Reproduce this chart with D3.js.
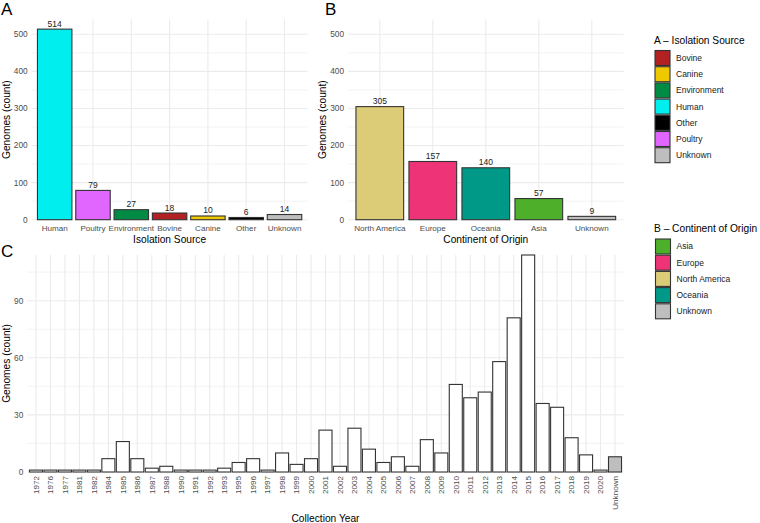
<!DOCTYPE html>
<html>
<head>
<meta charset="utf-8">
<script src="https://cdn.jsdelivr.net/npm/d3@7"></script>
<style>
  html, body { margin: 0; padding: 0; background: #fff; }
  svg { display: block; font-family: "Liberation Sans", Arial, sans-serif; }
</style>
</head>
<body>
<svg id="chart" width="760" height="523"></svg>
<script>
// ---------- data ----------
const sourceCats = ["Human", "Poultry", "Environment", "Bovine", "Canine", "Other", "Unknown"];
const sourceCounts = [514, 79, 27, 18, 10, 6, 14];
const sourceColors = {
  Bovine: "#B22222", Canine: "#EEC900", Environment: "#008B45", Human: "#00EEEE",
  Other: "#000000", Poultry: "#E066FF", Unknown: "#BEBEBE"
};
const sourceLegend = ["Bovine", "Canine", "Environment", "Human", "Other", "Poultry", "Unknown"];

const continentCats = ["North America", "Europe", "Oceania", "Asia", "Unknown"];
const continentCounts = [305, 157, 140, 57, 9];
const continentColors = {
  Asia: "#4DAF2A", Europe: "#EE3377", "North America": "#DDCC77", Oceania: "#009988", Unknown: "#BEBEBE"
};
const continentLegend = ["Asia", "Europe", "North America", "Oceania", "Unknown"];

const years = ["1972","1976","1977","1981","1982","1984","1985","1986","1987","1988",
  "1990","1991","1992","1993","1995","1996","1997","1998","1999","2000",
  "2001","2002","2003","2004","2005","2006","2007","2008","2009","2010",
  "2011","2012","2013","2014","2015","2016","2017","2018","2019","2020","Unknown"];
const yearCounts = [1,1,1,1,1,7,16,7,2,3,
  1,1,1,2,5,7,1,10,4,7,
  22,3,23,12,5,8,3,17,10,46,
  39,42,58,81,114,36,34,18,9,1,8];

const abTicks = [0, 100, 200, 300, 400, 500];
const abMinor = [50, 150, 250, 350, 450];
const cTicks = [0, 30, 60, 90];
const cMinor = [15, 45, 75, 105];

// ---------- setup ----------
const svg = d3.select("#chart");
const gridCol = "#EBEBEB";
const tickCol = "#4D4D4D";
const barStroke = "#333333";

function barPanel(opts) {
  const g = svg.append("g");
  const x = d3.scaleBand().domain(opts.cats).range([opts.x0, opts.x1])
    .paddingInner(0.1).paddingOuter(0.15);
  const y = d3.scaleLinear().domain([0, opts.ymax]).range([opts.y0, opts.y1]);
  // minor grid
  g.selectAll(".mg").data(opts.minor).join("line")
    .attr("x1", opts.x0).attr("x2", opts.x1)
    .attr("y1", d => y(d)).attr("y2", d => y(d))
    .attr("stroke", gridCol).attr("stroke-width", 0.6);
  // major grid
  g.selectAll(".Mg").data(opts.ticks).join("line")
    .attr("x1", opts.x0).attr("x2", opts.x1)
    .attr("y1", d => y(d)).attr("y2", d => y(d))
    .attr("stroke", gridCol).attr("stroke-width", 1.1);
  g.selectAll(".vg").data(opts.cats).join("line")
    .attr("x1", d => x(d) + x.bandwidth() / 2).attr("x2", d => x(d) + x.bandwidth() / 2)
    .attr("y1", opts.y0).attr("y2", opts.y1)
    .attr("stroke", gridCol).attr("stroke-width", 1.1);
  // y tick labels
  g.selectAll(".yt").data(opts.ticks).join("text")
    .attr("x", opts.x0 - 4).attr("y", d => y(d)).attr("dy", "0.35em")
    .attr("text-anchor", "end").attr("font-size", 8.3).attr("fill", tickCol)
    .text(d => d);
  // bars
  g.selectAll(".bar").data(opts.cats).join("rect")
    .attr("x", d => x(d)).attr("width", x.bandwidth())
    .attr("y", (d, i) => y(opts.vals[i]))
    .attr("height", (d, i) => opts.y0 - y(opts.vals[i]))
    .attr("fill", d => opts.fill(d))
    .attr("stroke", barStroke).attr("stroke-width", 1.1);
  // value labels
  if (opts.valueLabels) {
    g.selectAll(".vl").data(opts.cats).join("text")
      .attr("x", d => x(d) + x.bandwidth() / 2)
      .attr("y", (d, i) => y(opts.vals[i]) - 2.5)
      .attr("text-anchor", "middle").attr("font-size", 8.5).attr("fill", "#222")
      .text((d, i) => opts.vals[i]);
  }
  // x tick labels
  if (opts.rotate) {
    g.selectAll(".xt").data(opts.cats).join("text")
      .attr("transform", d => `translate(${x(d) + x.bandwidth() / 2},${opts.y0 + 4}) rotate(-90)`)
      .attr("dy", "0.35em").attr("text-anchor", "end")
      .attr("font-size", 8.1).attr("fill", tickCol).text(d => d);
  } else {
    g.selectAll(".xt").data(opts.cats).join("text")
      .attr("x", d => x(d) + x.bandwidth() / 2).attr("y", opts.y0 + 11.5)
      .attr("text-anchor", "middle").attr("font-size", 8.1).attr("fill", tickCol)
      .text(d => d);
  }
  // axis titles
  g.append("text")
    .attr("x", (opts.x0 + opts.x1) / 2).attr("y", opts.xTitleY)
    .attr("text-anchor", "middle").attr("font-size", 10.2).attr("fill", "#000")
    .text(opts.xTitle);
  g.append("text")
    .attr("transform", `translate(${opts.yTitleX},${(opts.y0 + opts.y1) / 2}) rotate(-90)`)
    .attr("text-anchor", "middle").attr("font-size", 10.2).attr("fill", "#000")
    .text("Genomes (count)");
  // panel tag
  g.append("text").attr("x", opts.tagX).attr("y", opts.tagY)
    .attr("font-size", 17).attr("fill", "#000").text(opts.tag);
}

const abMax = d3.max(sourceCounts) * 1.05;

barPanel({
  cats: sourceCats, vals: sourceCounts, fill: d => sourceColors[d],
  x0: 31.7, x1: 307.5, y0: 219.7, y1: 19.6, ymax: abMax,
  ticks: abTicks, minor: abMinor, valueLabels: true,
  xTitle: "Isolation Source", xTitleY: 242.5, yTitleX: 9.5,
  tag: "A", tagX: 1, tagY: 15
});

barPanel({
  cats: continentCats, vals: continentCounts, fill: d => continentColors[d],
  x0: 348, x1: 623.6, y0: 219.7, y1: 19.6, ymax: abMax,
  ticks: abTicks, minor: abMinor, valueLabels: true,
  xTitle: "Continent of Origin", xTitleY: 242.5, yTitleX: 325.5,
  tag: "B", tagX: 325, tagY: 15
});

barPanel({
  cats: years, vals: yearCounts, fill: d => d === "Unknown" ? "#BEBEBE" : "#FFFFFF",
  x0: 27.3, x1: 623.7, y0: 472, y1: 255, ymax: d3.max(yearCounts),
  ticks: cTicks, minor: cMinor, valueLabels: false, rotate: true,
  xTitle: "Collection Year", xTitleY: 521.5, yTitleX: 9.5,
  tag: "C", tagX: 1, tagY: 257
});

// ---------- legends ----------
function legend(title, items, colors, titleY, keyY0, kx) {
  const g = svg.append("g");
  g.append("text").attr("x", 654).attr("y", titleY)
    .attr("font-size", 10.2).attr("fill", "#000").text(title);
  const step = 16.2;
  g.selectAll("rect").data(items).join("rect")
    .attr("x", kx).attr("y", (d, i) => keyY0 + i * step)
    .attr("width", 15).attr("height", 15)
    .attr("fill", d => colors[d]).attr("stroke", barStroke).attr("stroke-width", 1.1);
  g.selectAll(".lt").data(items).join("text")
    .attr("x", kx + 21).attr("y", (d, i) => keyY0 + i * step + 7.5).attr("dy", "0.35em")
    .attr("font-size", 8.5).attr("fill", "#1a1a1a").text(d => d);
}
legend("A \u2013 Isolation Source", sourceLegend, sourceColors, 43.6, 50.5, 655);
legend("B \u2013 Continent of Origin", continentLegend, continentColors, 231.8, 239, 655.5);
</script>
</body>
</html>
